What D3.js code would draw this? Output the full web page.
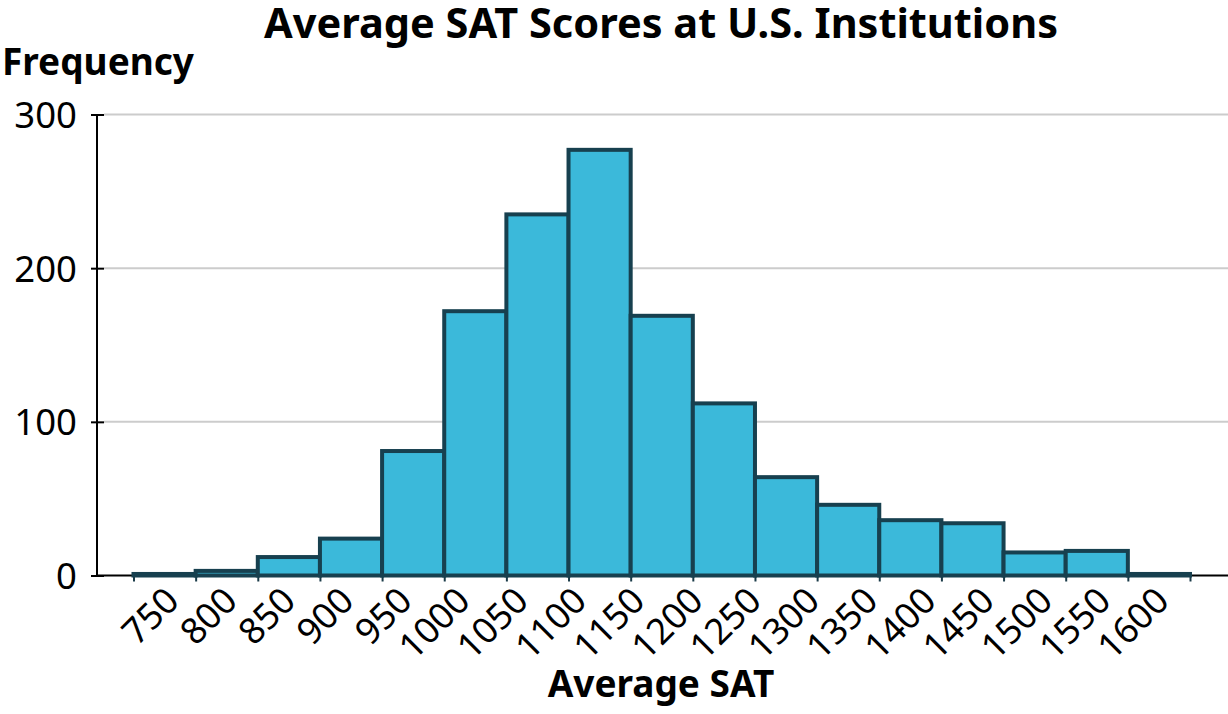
<!DOCTYPE html>
<html>
<head>
<meta charset="utf-8">
<script src="https://cdn.jsdelivr.net/npm/d3@7"></script>
<style>
  html, body { margin: 0; padding: 0; background: #fff; }
  svg { display: block; font-family: "Noto Sans", sans-serif; }
</style>
</head>
<body>
<svg id="chart" width="1228" height="714"></svg>
<script>
// ---- data ----
const binStarts = [750, 800, 850, 900, 950, 1000, 1050, 1100, 1150, 1200, 1250, 1300, 1350, 1400, 1450, 1500, 1550];
const binWidth = 50;
const frequencies = [1, 3, 12, 24, 81, 172, 235, 277, 169, 112, 64, 46, 36, 34, 15, 16, 1];
const xTickLabels = [750, 800, 850, 900, 950, 1000, 1050, 1100, 1150, 1200, 1250, 1300, 1350, 1400, 1450, 1500, 1550, 1600];
const yTicks = [0, 100, 200, 300];
const titleText = "Average SAT Scores at U.S. Institutions";
const xTitle = "Average SAT";
const yTitle = "Frequency";

// ---- layout ----
const svg = d3.select("#chart");
const axisLeftX = 97, plotRight = 1228;
const x = d3.scaleLinear().domain([750, 1600]).range([133.5, 1190]);
const xLab = d3.scaleLinear().domain([750, 1600]).range([181, 1171]);
const y = d3.scaleLinear().domain([0, 300]).range([575.5, 114.5]);

// gridlines
svg.append("g").selectAll("line").data(yTicks.filter(d => d > 0)).join("line")
  .attr("x1", axisLeftX + 7).attr("x2", plotRight)
  .attr("y1", d => y(d)).attr("y2", d => y(d))
  .attr("stroke", "#cccccc").attr("stroke-width", 2);

// y axis
const yAxis = svg.append("g").attr("transform", `translate(${axisLeftX},0)`)
  .call(d3.axisLeft(y).tickValues(yTicks).tickSize(6).tickFormat(d3.format("d")));
yAxis.select(".domain").remove();
yAxis.selectAll(".tick line").attr("x1", -6).attr("x2", 7).attr("stroke", "#000").attr("stroke-width", 2);
yAxis.selectAll(".tick text").attr("x", -20).attr("dy", "0.36em")
  .style("font-size", "36.5px").style("font-family", "Noto Sans").attr("fill", "#000");
svg.append("line").attr("x1", axisLeftX).attr("x2", axisLeftX)
  .attr("y1", y(300)).attr("y2", y(0)).attr("stroke", "#000").attr("stroke-width", 2);

// x axis line
svg.append("line").attr("x1", axisLeftX).attr("x2", plotRight)
  .attr("y1", y(0)).attr("y2", y(0)).attr("stroke", "#000").attr("stroke-width", 2);

// x ticks
const xAxis = svg.append("g").attr("transform", `translate(0,${y(0)})`)
  .call(d3.axisBottom(x).tickValues(xTickLabels).tickSize(6).tickFormat(""));
xAxis.select(".domain").remove();
xAxis.selectAll(".tick line").attr("stroke", "#1a3b48").attr("stroke-width", 2);

// bars
svg.append("g").selectAll("rect").data(binStarts).join("rect")
  .attr("x", (d) => x(d))
  .attr("width", d => x(d + binWidth) - x(d))
  .attr("y", (d, i) => y(frequencies[i]))
  .attr("height", (d, i) => y(0) - y(frequencies[i]))
  .attr("fill", "#3bb9da")
  .attr("stroke", "#17404f")
  .attr("stroke-width", 4);

// x tick labels (rotated)
svg.append("g").selectAll("text").data(xTickLabels).join("text")
  .attr("transform", d => `translate(${xLab(d)},603) rotate(-45)`)
  .attr("text-anchor", "end")
  .style("font-size", "36px")
  .attr("fill", "#000")
  .text(d => d);

// titles
svg.append("text").attr("x", 661).attr("y", 38).attr("text-anchor", "middle")
  .style("font-size", "41.5px").style("font-weight", "bold").text(titleText);
svg.append("text").attr("x", 2).attr("y", 75).attr("text-anchor", "start")
  .style("font-size", "37px").style("font-weight", "bold").text(yTitle);
svg.append("text").attr("x", 661).attr("y", 697).attr("text-anchor", "middle")
  .style("font-size", "37px").style("font-weight", "bold").text(xTitle);
</script>
</body>
</html>
